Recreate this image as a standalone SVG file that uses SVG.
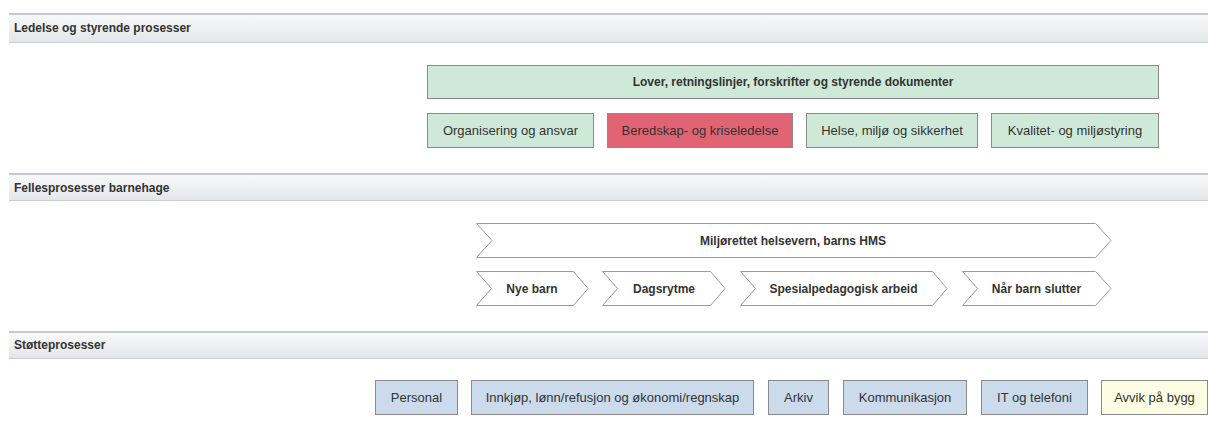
<svg xmlns="http://www.w3.org/2000/svg" width="1208" height="433" viewBox="0 0 1208 433">
<defs>
<linearGradient id="hdr" x1="0" y1="0" x2="0" y2="1">
<stop offset="0" stop-color="#f8f9fa"/>
<stop offset="1" stop-color="#e3e6e9"/>
</linearGradient>
<style>
.band{fill:url(#hdr)}
.bt{stroke:#c3cad2;stroke-width:2}
.bb{stroke:#c9ced3;stroke-width:1}
.ht{font-family:"Liberation Sans",Arial,sans-serif;font-size:12px;font-weight:bold;fill:#333}
.t{font-family:"Liberation Sans",Arial,sans-serif;font-size:13px;fill:#333;text-anchor:middle}
.tb{font-family:"Liberation Sans",Arial,sans-serif;font-size:12px;font-weight:bold;fill:#333;text-anchor:middle}
.g{fill:#cfe9d8;stroke:#8a8a8a;stroke-width:1}
.r{fill:#e06474;stroke:#8a8a8a;stroke-width:1}
.b{fill:#cbdbeb;stroke:#8a8a8a;stroke-width:1}
.y{fill:#fdfde3;stroke:#8a8a8a;stroke-width:1}
.c{fill:#fff;stroke:#9a9a9a;stroke-width:1}
</style>
</defs>
<rect width="1208" height="433" fill="#fff"/>

<g id="header1">
<rect class="band" x="9" y="14" width="1199" height="28"/>
<line class="bt" x1="9" y1="14" x2="1208" y2="14"/>
<line class="bb" x1="9" y1="42.5" x2="1208" y2="42.5"/>
<text class="ht" x="14" y="32">Ledelse og styrende prosesser</text>
</g>
<g id="header2">
<rect class="band" x="9" y="174" width="1199" height="27"/>
<line class="bt" x1="9" y1="174" x2="1208" y2="174"/>
<line class="bb" x1="9" y1="200.5" x2="1208" y2="200.5"/>
<text class="ht" x="14" y="192">Fellesprosesser barnehage</text>
</g>
<g id="header3">
<rect class="band" x="9" y="332" width="1199" height="27"/>
<line class="bt" x1="9" y1="332" x2="1208" y2="332"/>
<line class="bb" x1="9" y1="358.5" x2="1208" y2="358.5"/>
<text class="ht" x="14" y="349">Støtteprosesser</text>
</g>

<g id="lover">
<rect class="g" x="427.5" y="65.5" width="731" height="33"/>
<text class="tb" x="793" y="86">Lover, retningslinjer, forskrifter og styrende dokumenter</text>
</g>
<g id="organisering">
<rect class="g" x="427.5" y="113.5" width="166" height="34"/>
<text class="t" x="510.5" y="135">Organisering og ansvar</text>
</g>
<g id="beredskap">
<rect class="r" x="607.5" y="113.5" width="185" height="34"/>
<text class="t" x="700" y="135">Beredskap- og kriseledelse</text>
</g>
<g id="helse">
<rect class="g" x="806.5" y="113.5" width="171" height="34"/>
<text class="t" x="892" y="135">Helse, miljø og sikkerhet</text>
</g>
<g id="kvalitet">
<rect class="g" x="991.5" y="113.5" width="167" height="34"/>
<text class="t" x="1075" y="135">Kvalitet- og miljøstyring</text>
</g>

<g id="miljorettet">
<path class="c" d="M476.5,223.5 H1095.5 L1111,240.5 L1095.5,257.5 H476.5 L492,240.5 Z"/>
<text class="tb" x="793" y="244.5">Miljørettet helsevern, barns HMS</text>
</g>
<g id="nyebarn">
<path class="c" d="M476.5,271.5 H573.5 L588,288.5 L573.5,305.5 H476.5 L491.5,288.5 Z"/>
<text class="tb" x="532" y="292.5">Nye barn</text>
</g>
<g id="dagsrytme">
<path class="c" d="M602.5,271.5 H710.5 L725,288.5 L710.5,305.5 H602.5 L617.5,288.5 Z"/>
<text class="tb" x="664" y="292.5">Dagsrytme</text>
</g>
<g id="spesial">
<path class="c" d="M740.5,271.5 H932.5 L947,288.5 L932.5,305.5 H740.5 L755.5,288.5 Z"/>
<text class="tb" x="843.5" y="292.5">Spesialpedagogisk arbeid</text>
</g>
<g id="naarbarn">
<path class="c" d="M962.5,271.5 H1095.5 L1111,288.5 L1095.5,305.5 H962.5 L977.5,288.5 Z"/>
<text class="tb" x="1036.5" y="292.5">Når barn slutter</text>
</g>

<g id="personal">
<rect class="b" x="375.5" y="380.5" width="82" height="34"/>
<text class="t" x="416.5" y="402">Personal</text>
</g>
<g id="innkjop">
<rect class="b" x="471.5" y="380.5" width="282" height="34"/>
<text class="t" x="612.5" y="402">Innkjøp, lønn/refusjon og økonomi/regnskap</text>
</g>
<g id="arkiv">
<rect class="b" x="768.5" y="380.5" width="60" height="34"/>
<text class="t" x="798.5" y="402">Arkiv</text>
</g>
<g id="kommunikasjon">
<rect class="b" x="843.5" y="380.5" width="123" height="34"/>
<text class="t" x="905" y="402">Kommunikasjon</text>
</g>
<g id="it">
<rect class="b" x="981.5" y="380.5" width="106" height="34"/>
<text class="t" x="1034.5" y="402">IT og telefoni</text>
</g>
<g id="avvik">
<rect class="y" x="1101.5" y="380.5" width="106" height="34"/>
<text class="t" x="1154.5" y="402">Avvik på bygg</text>
</g>
<g id="connectors"/>
</svg>
